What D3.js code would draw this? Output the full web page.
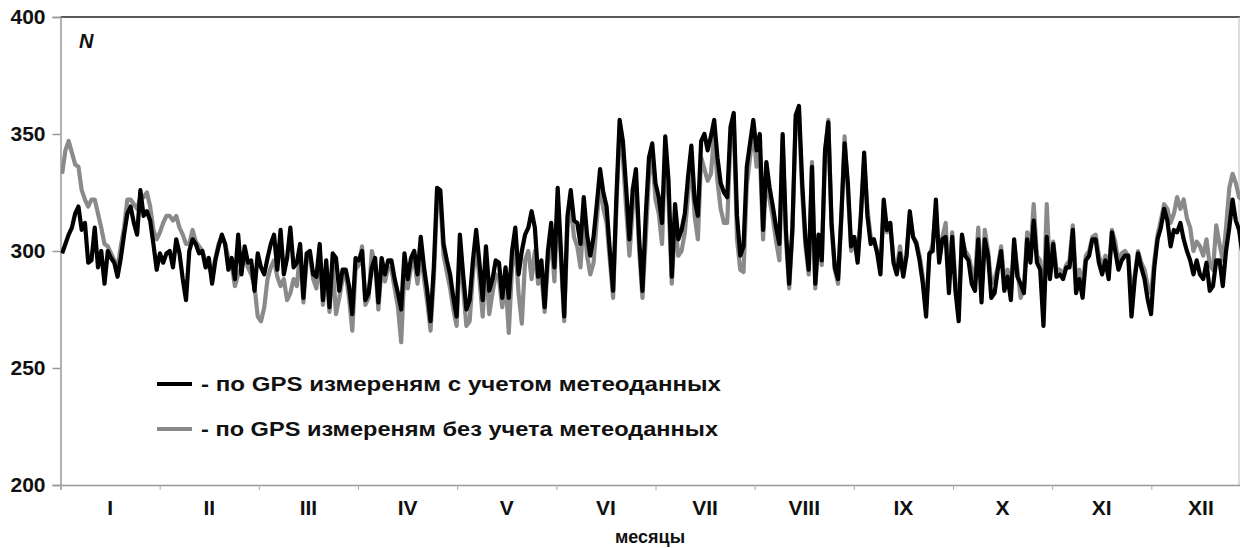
<!DOCTYPE html>
<html><head><meta charset="utf-8">
<script src="https://cdn.jsdelivr.net/npm/d3@7"></script>
<style>
body{margin:0;background:#fff}
svg{display:block;background:#fff}
text{font-family:"Liberation Sans",Arial,sans-serif;font-weight:bold;fill:#111}
</style>
</head><body>
<svg id="chart" width="1240" height="548"></svg>
<script>
const months = ["I","II","III","IV","V","VI","VII","VIII","IX","X","XI","XII"];
const yTicks = [200, 250, 300, 350, 400];
const legendLabels = ["- по GPS измереням с учетом метеоданных", "- по GPS измереням без учета метеоданных"];
const axisTitle = "месяцы";
const yTitle = "N";

// daily values, black series (with meteo data)
const withMeteo = [
299,303,307,310,316,319,309,312,295,296,
310,293,300,286,300,297,295,289,297,307,
316,319,312,307,326,315,317,313,303,292,
299,295,299,300,293,305,299,288,279,300,
305,303,299,300,293,297,286,296,302,307,
303,292,297,288,307,290,302,295,296,283,
299,293,290,297,303,307,292,309,290,297,
310,293,295,303,280,299,300,290,289,303,
279,296,276,299,297,283,292,292,285,273,
297,296,300,279,282,293,297,278,297,290,
296,296,288,282,275,299,288,297,300,290,
306,293,283,270,293,327,326,303,296,290,
280,272,307,290,275,279,296,309,295,279,
302,283,288,296,295,280,293,280,300,310,
290,300,307,310,317,310,289,296,276,300,
312,293,327,300,272,315,326,313,312,303,
323,307,298,306,320,335,325,319,300,283,
323,356,347,327,305,326,335,305,283,315,
340,346,329,323,312,349,330,289,320,305,
309,316,332,345,322,315,347,350,343,349,
356,340,329,325,323,353,359,315,298,302,
336,346,356,343,350,309,338,327,319,310,
303,350,309,286,310,358,362,329,305,292,
336,286,307,296,343,355,312,293,288,315,
346,329,302,306,295,315,342,315,303,305,
299,290,322,309,312,295,290,299,289,298,
317,306,303,296,286,272,299,300,322,295,
305,306,282,306,283,270,307,298,296,286,
283,305,278,305,298,280,282,292,300,283,
289,279,305,289,286,282,305,295,313,295,
292,268,306,288,303,289,290,288,293,293,
309,282,288,280,296,298,305,305,295,290,
296,288,308,300,292,296,298,298,272,288,
299,293,288,279,273,293,305,310,318,313,
302,309,308,312,305,300,296,290,296,290,
288,295,283,285,296,296,285,300,310,322,
313,309,299,300,300
];

// daily values, grey series (without meteo data)
const withoutMeteo = [
333,343,347,342,337,336,326,322,319,322,
322,316,310,303,302,299,296,293,302,310,
322,322,320,318,323,323,325,319,309,305,
308,312,315,315,313,315,310,307,303,303,
309,304,302,300,296,293,290,297,303,306,
303,297,294,285,290,293,297,293,290,285,
272,270,276,288,293,296,289,285,288,279,
282,288,285,300,278,296,298,288,284,300,
277,292,274,294,273,280,288,290,280,266,
292,294,302,277,280,300,294,275,293,287,
293,292,284,276,261,292,284,293,296,286,
300,288,278,266,288,322,322,298,291,284,
275,268,300,284,268,270,290,303,288,272,
296,273,282,290,288,276,288,265,293,303,
282,269,296,300,288,300,286,290,274,295,
305,287,322,296,270,310,320,306,302,293,
316,298,290,295,313,330,318,312,296,280,
318,352,340,318,298,318,330,300,280,305,
332,340,322,316,303,343,322,286,312,298,
300,308,324,338,315,305,340,335,330,333,
350,330,318,312,312,348,355,305,292,291,
328,340,352,336,342,305,334,322,314,304,
296,348,305,284,308,356,358,325,302,290,
338,284,305,294,342,356,310,292,286,314,
349,326,300,304,296,316,338,318,306,304,
300,294,318,308,312,296,293,302,292,298,
315,306,304,298,289,276,298,303,318,296,
306,312,286,308,287,276,306,300,298,292,
288,310,283,309,300,286,288,293,302,287,
292,282,303,292,280,284,308,300,320,298,
296,275,320,290,304,292,292,290,294,296,
311,287,292,285,298,300,306,307,298,293,
298,292,309,304,295,299,300,298,280,290,
300,295,292,285,282,296,307,313,320,318,
312,316,323,318,322,314,310,300,304,302,
298,305,294,292,311,303,296,310,327,333,
329,323,322,324,324
];

(function () {
const W = 1240, H = 548;
const pLeft = 60.5, pRight = 1250.5, pTop = 17, pBottom = 485;
const svg = d3.select("#chart");

const x = d3.scaleLinear().domain([0, withMeteo.length]).range([pLeft, pRight]);
const mx = d3.scaleLinear().domain([0, months.length]).range([pLeft, pRight]);
const y = d3.scaleLinear().domain([200, 400]).range([pBottom, pTop]);

svg.append("defs").append("clipPath").attr("id", "clip")
  .append("rect").attr("x", pLeft).attr("y", 0).attr("width", W - pLeft).attr("height", H);

// frame: top line and right line
svg.append("line").attr("x1", pLeft).attr("x2", W).attr("y1", pTop).attr("y2", pTop)
  .attr("stroke", "#222").attr("stroke-width", 1.5);
svg.append("line").attr("x1", W - 1).attr("x2", W - 1).attr("y1", pTop).attr("y2", pBottom)
  .attr("stroke", "#bbb").attr("stroke-width", 1);

// y axis
const yAxis = svg.append("g").attr("transform", `translate(${pLeft},0)`)
  .call(d3.axisLeft(y).tickValues(yTicks).tickSize(8).tickPadding(7).tickFormat(d3.format("d")));
yAxis.select(".domain").attr("stroke", "#999").attr("stroke-width", 1.5);
yAxis.selectAll(".tick line").attr("stroke", "#999").attr("stroke-width", 1.5);
yAxis.selectAll(".tick text").attr("font-size", 21).attr("font-family", "Liberation Sans, Arial, sans-serif")
  .attr("font-weight", "bold").attr("fill", "#111");

// x axis (month boundaries)
const xAxis = svg.append("g").attr("transform", `translate(0,${pBottom})`)
  .call(d3.axisBottom(mx).tickValues(d3.range(0, months.length + 1)).tickSize(5).tickFormat(""));
xAxis.select(".domain").attr("stroke", "#999").attr("stroke-width", 1.5);
xAxis.selectAll(".tick line").attr("stroke", "#aaa").attr("stroke-width", 1);

svg.append("g").selectAll("text").data(months).join("text")
  .attr("x", (d, i) => mx(i + 0.5)).attr("y", 515)
  .attr("text-anchor", "middle").attr("font-size", 21).text(d => d);

svg.append("text").attr("x", 650).attr("y", 543).attr("text-anchor", "middle")
  .attr("font-size", 18).text(axisTitle);

svg.append("text").attr("x", 79).attr("y", 48).attr("font-size", 20)
  .attr("font-style", "italic").text(yTitle);

// lines
const line = d3.line().x((d, i) => x(i + 0.5)).y(d => y(d));
const plot = svg.append("g").attr("clip-path", "url(#clip)");
plot.append("path").datum(withoutMeteo).attr("d", line)
  .attr("fill", "none").attr("stroke", "#8a8a8a").attr("stroke-width", 4.2).attr("stroke-linejoin", "round");
plot.append("path").datum(withMeteo).attr("d", line)
  .attr("fill", "none").attr("stroke", "#000").attr("stroke-width", 4.2).attr("stroke-linejoin", "round");

// legend
const legendColors = ["#000", "#8a8a8a"];
const legendY = [384, 429];
const legendLen = [520, 517];
const lg = svg.append("g");
legendLabels.forEach((t, i) => {
  lg.append("line").attr("x1", 157).attr("x2", 192).attr("y1", legendY[i]).attr("y2", legendY[i])
    .attr("stroke", legendColors[i]).attr("stroke-width", 4);
  lg.append("text").attr("x", 201).attr("y", legendY[i] + 7).attr("font-size", 20)
    .attr("textLength", legendLen[i]).attr("lengthAdjust", "spacingAndGlyphs").text(t);
});
})();
</script>
</body></html>
